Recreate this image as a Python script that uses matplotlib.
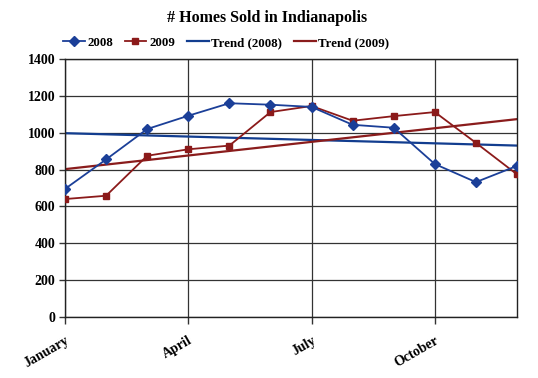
import numpy as np
import matplotlib
matplotlib.use("Agg")
import matplotlib.pyplot as plt

months = ["January", "February", "March", "April", "May", "June", "July",
          "August", "September", "October", "November", "December"]
sold_2008 = [695, 855, 1020, 1092, 1160, 1152, 1140, 1043, 1027, 830, 732, 820]
sold_2009 = [640, 658, 875, 910, 930, 1112, 1145, 1065, 1090, 1112, 945, 774]
yticks = [0, 200, 400, 600, 800, 1000, 1200, 1400]
xtick_labels = ["January", "April", "July", "October"]

plt.rcParams['font.family'] = ['Liberation Serif', 'DejaVu Serif']
plt.rcParams['font.weight'] = 'bold'

c08 = '#1b3f98'
c09 = '#8b1a1a'
ct08 = '#123d8f'
ct09 = '#8a1c1c'

fig = plt.figure(figsize=(5.38, 3.78), dpi=100)
ax = fig.add_axes([65/538, 1-317/378, (517-65)/538, (317-59)/378])

x = np.arange(len(months))
t08 = np.polyval(np.polyfit(x, sold_2008, 1), x)
t09 = np.polyval(np.polyfit(x, sold_2009, 1), x)

ax.plot(x, sold_2008, color=c08, marker='D', markersize=5.5, lw=1.3, label='2008', zorder=4)
ax.plot(x, sold_2009, color=c09, marker='s', markersize=5, lw=1.3, label='2009', zorder=3)
ax.plot(x, t08, color=ct08, lw=1.6, label='Trend (2008)', zorder=2)
ax.plot(x, t09, color=ct09, lw=1.6, label='Trend (2009)', zorder=2)

ax.set_xlim(0, 11)
ax.set_ylim(0, 1400)
ax.set_yticks(yticks)
ax.set_yticklabels([str(v) for v in yticks], fontsize=10, fontweight='bold')
xt = [months.index(m) for m in xtick_labels]
ax.set_xticks(xt)
ax.set_xticklabels(xtick_labels, rotation=30, ha='right', rotation_mode='anchor',
                   fontsize=10, fontweight='bold')
ax.tick_params(axis='x', length=5, width=1, color='#333333', pad=7)
ax.tick_params(axis='y', length=4, width=1, color='#333333', pad=3)
ax.grid(True, color='#333333', lw=0.9)
ax.set_axisbelow(True)
for s in ax.spines.values():
    s.set_color('#222222')
    s.set_linewidth(1.0)

fig.text(267/538, 1-18/378, '# Homes Sold in Indianapolis', ha='center', va='center',
         fontsize=11.5, fontweight='bold')
h, l = ax.get_legend_handles_labels()
fig.legend(h, l, loc='center', bbox_to_anchor=(226/538, 1-43/378), ncol=4, frameon=False,
           prop={'size': 9.3, 'weight': 'bold'}, handlelength=1.7, handletextpad=0.2,
           columnspacing=0.9, borderaxespad=0, markerscale=0.85)

fig.savefig('out.png', dpi=100)
